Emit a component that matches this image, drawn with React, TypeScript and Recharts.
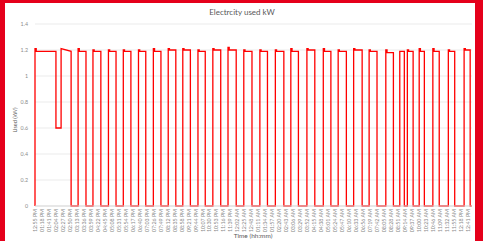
import React from 'react';
import { LineChart, Line, XAxis, YAxis, CartesianGrid } from 'recharts';

// Libellés de l'axe X (un tous les ~23 min à partir de 12:55 PM)
const TIME_LABELS = [
  '12:55 PM', '01:18 PM', '01:41 PM', '02:04 PM', '02:27 PM', '02:50 PM', '03:13 PM', '03:36 PM',
  '03:59 PM', '04:22 PM', '04:45 PM', '05:08 PM', '05:31 PM', '05:54 PM', '06:17 PM', '06:40 PM',
  '07:03 PM', '07:26 PM', '07:49 PM', '08:12 PM', '08:35 PM', '08:58 PM', '09:21 PM', '09:44 PM',
  '10:07 PM', '10:30 PM', '10:53 PM', '11:16 PM', '11:39 PM', '12:02 AM', '12:25 AM', '12:48 AM',
  '01:11 AM', '01:34 AM', '01:57 AM', '02:20 AM', '02:43 AM', '03:06 AM', '03:29 AM', '03:52 AM',
  '04:15 AM', '04:38 AM', '05:01 AM', '05:24 AM', '05:47 AM', '06:10 AM', '06:33 AM', '06:56 AM',
  '07:19 AM', '07:42 AM', '08:05 AM', '08:28 AM', '08:51 AM', '09:14 AM', '09:37 AM', '10:00 AM',
  '10:23 AM', '10:46 AM', '11:09 AM', '11:32 AM', '11:55 AM', '12:18 PM', '12:41 PM',
];
const TICK_STEP_MIN = 23;

// Cycles marche / arrêt (minutes depuis 12:55 PM)
const PULSE_ON = [
  0, 142, 191, 242, 291, 341, 390, 439, 487, 537, 586, 636, 688, 741,
  792, 843, 896, 950, 999, 1050, 1101, 1156, 1202, 1227, 1266, 1311, 1362, 1414,
];
const PULSE_OFF = [
  119, 168, 217, 267, 316, 365, 415, 464, 512, 561, 612, 663, 715, 766,
  820, 868, 922, 975, 1026, 1078, 1127, 1181, 1217, 1246, 1283, 1332, 1383, 1434,
];
const PULSE_PEAK = [
  1.21, 1.21, 1.2, 1.2, 1.2, 1.2, 1.21, 1.21, 1.21, 1.2, 1.21, 1.22, 1.2, 1.2,
  1.2, 1.21, 1.21, 1.21, 1.2, 1.21, 1.2, 1.2, 1.19, 1.2, 1.21, 1.21, 1.2, 1.21,
];
const PULSE_KW = [
  1.19, 1.19, 1.19, 1.19, 1.19, 1.19, 1.19, 1.2, 1.2, 1.19, 1.2, 1.2, 1.19, 1.19,
  1.19, 1.19, 1.2, 1.19, 1.19, 1.2, 1.19, 1.18, 1.19, 1.19, 1.19, 1.19, 1.19, 1.2,
];
const PEAK_LEN_MIN = 4;
// Baisse à 0.6 kW pendant le premier cycle
const DIP_FROM = 69;
const DIP_TO = 86;
const DIP_KW = 0.6;
const END_MIN = 1439;

const Y_TICKS = [0, 0.2, 0.4, 0.6, 0.8, 1, 1.2, 1.4];

const data: { t: number; kw: number }[] = [];
PULSE_ON.forEach((on, i) => {
  const off = PULSE_OFF[i];
  data.push({ t: on, kw: 0 });
  data.push({ t: on, kw: PULSE_PEAK[i] });
  data.push({ t: on + PEAK_LEN_MIN, kw: PULSE_PEAK[i] });
  data.push({ t: on + PEAK_LEN_MIN, kw: PULSE_KW[i] });
  if (DIP_FROM > on && DIP_TO < off) {
    data.push({ t: DIP_FROM, kw: PULSE_KW[i] });
    data.push({ t: DIP_FROM, kw: DIP_KW });
    data.push({ t: DIP_TO, kw: DIP_KW });
    data.push({ t: DIP_TO, kw: PULSE_PEAK[i] });
  }
  data.push({ t: off, kw: PULSE_KW[i] });
  data.push({ t: off, kw: 0 });
});
data.push({ t: END_MIN, kw: 0 });

const xTicks = TIME_LABELS.map((_, i) => i * TICK_STEP_MIN);
const FONT = 'Lato, "Open Sans", sans-serif';

function TimeTick(props: any) {
  const { x, y, payload } = props;
  const label = TIME_LABELS[Math.round(payload.value / TICK_STEP_MIN)] ?? '';
  return (
    <g transform={`translate(${x},${y})`}>
      <text
        x={0}
        y={0}
        dy={2}
        textAnchor="end"
        transform="rotate(-90)"
        fontSize={5.3}
        fill="#8a8a8a"
        fontFamily={FONT}
      >
        {label}
      </text>
    </g>
  );
}

export default function App() {
  return (
    <div style={{ position: 'absolute', left: 0, top: 0, width: 483, height: 241, background: '#e5001b', overflow: 'hidden' }}>
      <div style={{ position: 'absolute', left: 5, top: 3, width: 470, height: 238, background: '#fff' }}>
        <LineChart width={470} height={238} data={data} margin={{ top: 21, right: 3, left: 0, bottom: 0 }}>
          <CartesianGrid vertical={false} stroke="#e6e6e6" strokeWidth={0.8} />
          <XAxis
            dataKey="t"
            type="number"
            domain={[0, 1440]}
            ticks={xTicks}
            interval={0}
            tick={<TimeTick />}
            tickLine={false}
            tickSize={0}
            tickMargin={3}
            axisLine={{ stroke: '#d9d9d9' }}
            height={35}
          />
          <YAxis
            type="number"
            domain={[0, 1.4]}
            ticks={Y_TICKS}
            interval={0}
            width={30}
            tickLine={false}
            axisLine={false}
            tickSize={0}
            tickMargin={7}
            tick={{ fontSize: 5.3, fill: '#8a8a8a', fontFamily: FONT }}
            tickFormatter={(v: number) => String(Math.round(v * 10) / 10)}
          />
          <Line
            type="linear"
            dataKey="kw"
            stroke="#ff0000"
            strokeWidth={1.3}
            dot={false}
            isAnimationActive={false}
          />
        </LineChart>
        <div style={{ position: 'absolute', left: 2, top: 4, width: 470, textAlign: 'center', fontFamily: FONT, fontSize: 8, color: '#595959' }}>
          Electrcity used kW
        </div>
        <div
          style={{
            position: 'absolute', left: 10, top: 117, transform: 'translate(-50%, -50%) rotate(-90deg)',
            fontFamily: FONT, fontSize: 5.5, color: '#595959', whiteSpace: 'nowrap',
          }}
        >
          Used (kW)
        </div>
        <div
          style={{
            position: 'absolute', left: 248, top: 232, transform: 'translate(-50%, -50%)',
            fontFamily: FONT, fontSize: 6.5, color: '#595959', whiteSpace: 'nowrap',
          }}
        >
          Time (hh:mm)
        </div>
      </div>
    </div>
  );
}
